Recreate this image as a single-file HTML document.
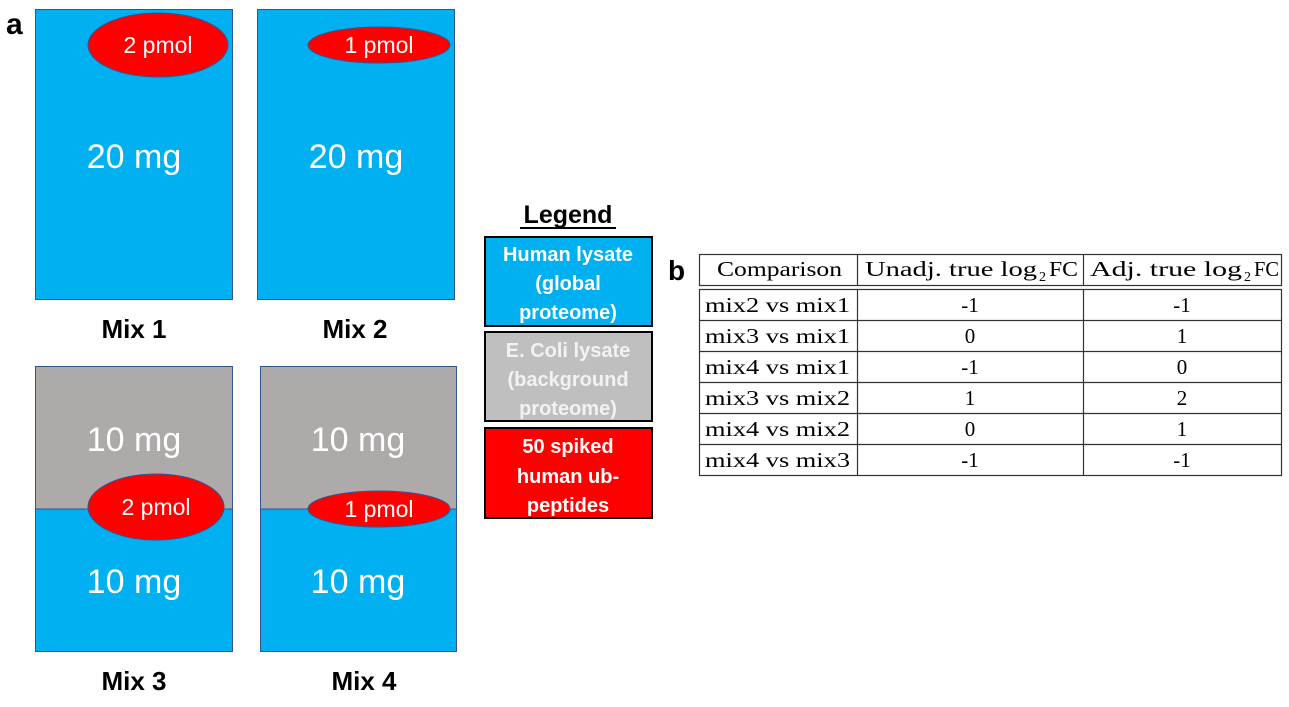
<!DOCTYPE html>
<html><head><style>
html,body{margin:0;padding:0;background:#fff;}
svg{display:block;}
.c{font-family:"Liberation Sans",sans-serif;}
.t{font-family:"Liberation Serif",serif;font-size:21px;fill:#000;}
</style></head><body>
<svg width="1289" height="707" viewBox="0 0 1289 707" xmlns="http://www.w3.org/2000/svg">
<g class="c">
<text x="6" y="34" font-size="30" font-weight="bold">a</text>
<text x="668" y="280" font-size="28" font-weight="bold">b</text>

<!-- Mix1 -->
<rect x="35.5" y="9.5" width="197" height="290" fill="#00b0f0" stroke="#2f5597" stroke-width="1"/>
<ellipse cx="158" cy="45" rx="70" ry="32" fill="#ff0000" stroke="#2f5597" stroke-width="1"/>
<text x="158" y="53" font-size="23" fill="#fff" text-anchor="middle">2 pmol</text>
<text x="134" y="168" font-size="34" fill="#fff" text-anchor="middle">20 mg</text>
<text x="134" y="338" font-size="26" font-weight="bold" text-anchor="middle">Mix 1</text>

<!-- Mix2 -->
<rect x="257.5" y="9.5" width="197" height="290" fill="#00b0f0" stroke="#2f5597" stroke-width="1"/>
<ellipse cx="379" cy="45" rx="71" ry="18" fill="#ff0000" stroke="#2f5597" stroke-width="1"/>
<text x="379" y="53" font-size="23" fill="#fff" text-anchor="middle">1 pmol</text>
<text x="356" y="168" font-size="34" fill="#fff" text-anchor="middle">20 mg</text>
<text x="355" y="338" font-size="26" font-weight="bold" text-anchor="middle">Mix 2</text>

<!-- Mix3 -->
<rect x="35.5" y="366.5" width="197" height="285" fill="#00b0f0" stroke="#2f5597" stroke-width="1"/>
<rect x="36" y="367" width="196" height="142" fill="#aeaaaa"/>
<line x1="36" y1="509" x2="232" y2="509" stroke="#2f5597" stroke-width="1"/>
<ellipse cx="156" cy="507" rx="68" ry="33" fill="#ff0000" stroke="#2f5597" stroke-width="1"/>
<text x="156" y="515" font-size="23" fill="#fff" text-anchor="middle">2 pmol</text>
<text x="134" y="451" font-size="34" fill="#fff" text-anchor="middle">10 mg</text>
<text x="134" y="593" font-size="34" fill="#fff" text-anchor="middle">10 mg</text>
<text x="134" y="690" font-size="26" font-weight="bold" text-anchor="middle">Mix 3</text>

<!-- Mix4 -->
<rect x="260.5" y="366.5" width="196" height="285" fill="#00b0f0" stroke="#2f5597" stroke-width="1"/>
<rect x="261" y="367" width="195" height="142" fill="#aeaaaa"/>
<line x1="261" y1="509" x2="456" y2="509" stroke="#2f5597" stroke-width="1"/>
<ellipse cx="379" cy="509" rx="71" ry="18" fill="#ff0000" stroke="#2f5597" stroke-width="1"/>
<text x="379" y="517" font-size="23" fill="#fff" text-anchor="middle">1 pmol</text>
<text x="358" y="451" font-size="34" fill="#fff" text-anchor="middle">10 mg</text>
<text x="358" y="593" font-size="34" fill="#fff" text-anchor="middle">10 mg</text>
<text x="364" y="690" font-size="26" font-weight="bold" text-anchor="middle">Mix 4</text>

<!-- Legend -->
<text x="568" y="223" font-size="25" font-weight="bold" text-anchor="middle">Legend</text>
<line x1="520" y1="228" x2="616" y2="228" stroke="#000" stroke-width="2"/>
<rect x="485" y="237" width="167" height="89" fill="#00b0f0" stroke="#000" stroke-width="2"/>
<g font-size="20" font-weight="bold" fill="#fff" text-anchor="middle">
<text x="568" y="261">Human lysate</text>
<text x="568" y="290">(global</text>
<text x="568" y="319">proteome)</text>
</g>
<rect x="485" y="332" width="167" height="89" fill="#bfbfbf" stroke="#000" stroke-width="2"/>
<g font-size="20" font-weight="bold" fill="#f2f2f2" text-anchor="middle">
<text x="568" y="357">E. Coli lysate</text>
<text x="568" y="386">(background</text>
<text x="568" y="415">proteome)</text>
</g>
<rect x="485" y="428" width="167" height="90" fill="#ff0000" stroke="#000" stroke-width="2"/>
<g font-size="20" font-weight="bold" fill="#fff" text-anchor="middle">
<text x="568" y="453">50 spiked</text>
<text x="568" y="483">human ub-</text>
<text x="568" y="512">peptides</text>
</g>
</g>

<!-- Table -->
<g stroke="#333" stroke-width="1.2" fill="none">
<rect x="699.5" y="254.5" width="582" height="31"/>
<rect x="699.5" y="289.5" width="582" height="186"/>
<line x1="857.5" y1="254" x2="857.5" y2="286"/>
<line x1="1083.5" y1="254" x2="1083.5" y2="286"/>
<line x1="857.5" y1="289" x2="857.5" y2="476"/>
<line x1="1083.5" y1="289" x2="1083.5" y2="476"/>
<line x1="699" y1="320.5" x2="1282" y2="320.5"/>
<line x1="699" y1="351.5" x2="1282" y2="351.5"/>
<line x1="699" y1="382.5" x2="1282" y2="382.5"/>
<line x1="699" y1="413.5" x2="1282" y2="413.5"/>
<line x1="699" y1="444.5" x2="1282" y2="444.5"/>
</g>
<g class="t">
<text x="717" y="276" textLength="125" lengthAdjust="spacingAndGlyphs">Comparison</text>
<text x="865" y="276" textLength="172" lengthAdjust="spacingAndGlyphs">Unadj. true log</text>
<text x="1039" y="281" font-size="14">2</text>
<text x="1049" y="276" textLength="29" lengthAdjust="spacingAndGlyphs">FC</text>
<text x="1090" y="276" textLength="152" lengthAdjust="spacingAndGlyphs">Adj. true log</text>
<text x="1244" y="281" font-size="14">2</text>
<text x="1254" y="276" textLength="25" lengthAdjust="spacingAndGlyphs">FC</text>
<g>
<text x="705" y="312" textLength="145" lengthAdjust="spacingAndGlyphs">mix2 vs mix1</text>
<text x="705" y="343" textLength="145" lengthAdjust="spacingAndGlyphs">mix3 vs mix1</text>
<text x="705" y="374" textLength="145" lengthAdjust="spacingAndGlyphs">mix4 vs mix1</text>
<text x="705" y="405" textLength="145" lengthAdjust="spacingAndGlyphs">mix3 vs mix2</text>
<text x="705" y="436" textLength="145" lengthAdjust="spacingAndGlyphs">mix4 vs mix2</text>
<text x="705" y="467" textLength="145" lengthAdjust="spacingAndGlyphs">mix4 vs mix3</text>
</g>
<g text-anchor="middle">
<text x="970" y="312">-1</text><text x="1182" y="312">-1</text>
<text x="970" y="343">0</text><text x="1182" y="343">1</text>
<text x="970" y="374">-1</text><text x="1182" y="374">0</text>
<text x="970" y="405">1</text><text x="1182" y="405">2</text>
<text x="970" y="436">0</text><text x="1182" y="436">1</text>
<text x="970" y="467">-1</text><text x="1182" y="467">-1</text>
</g>
</g>
</svg>
</body></html>
